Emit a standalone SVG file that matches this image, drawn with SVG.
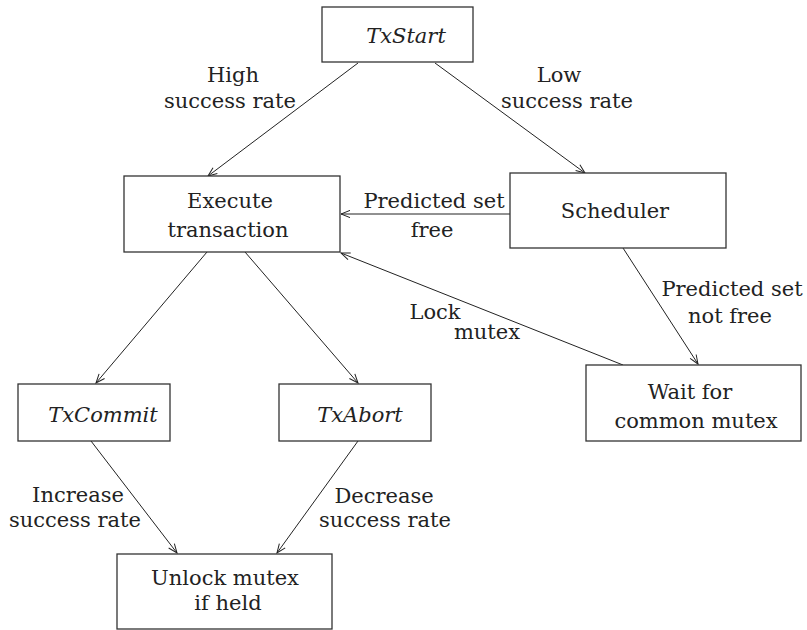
<svg xmlns="http://www.w3.org/2000/svg" width="807" height="630" viewBox="0 0 807 630">
<defs>
<marker id="arr" viewBox="-10 -5 12 10" markerWidth="12" markerHeight="10" refX="0" refY="0" orient="auto" markerUnits="userSpaceOnUse">
<path d="M -9 -3.6 L 0 0 L -9 3.6" fill="none" stroke="#222" stroke-width="1"/>
</marker>
</defs>
<style>
.box { fill: #fff; stroke: #333; stroke-width: 1.3; }
text { font-family: "DejaVu Serif", serif; font-size: 21px; fill: #222; text-anchor: middle; }
.it { font-style: italic; }
.c line { stroke: #222; stroke-width: 1; marker-end: url(#arr); }
</style>
<rect width="807" height="630" fill="#fff"/>
<g class="c" id="connectors">
<line x1="358" y1="63" x2="208" y2="176"/>
<line x1="435" y1="63" x2="585" y2="173"/>
<line x1="510" y1="214" x2="341" y2="214"/>
<line x1="623" y1="365" x2="341" y2="253"/>
<line x1="623" y1="248" x2="698" y2="364"/>
<line x1="207" y1="252" x2="96" y2="383"/>
<line x1="245" y1="252" x2="358" y2="383"/>
<line x1="91" y1="441" x2="177" y2="553"/>
<line x1="358" y1="441" x2="277" y2="553"/>
</g>
<g id="labels">
<text x="233" y="82">High</text>
<text x="230" y="108">success rate</text>
<text x="559" y="82">Low</text>
<text x="567" y="108">success rate</text>
<text x="434" y="208">Predicted set</text>
<text x="432" y="237">free</text>
<text x="435" y="319">Lock</text>
<text x="487" y="339">mutex</text>
<text x="732" y="296">Predicted set</text>
<text x="730" y="323">not free</text>
<text x="78" y="502">Increase</text>
<text x="75" y="527">success rate</text>
<text x="384" y="503">Decrease</text>
<text x="385" y="527">success rate</text>
</g>
<g id="txstart">
<rect class="box" x="322" y="7" width="151" height="55"/>
<text class="it" x="406" y="43">TxStart</text>
</g>
<g id="execute">
<rect class="box" x="124" y="176" width="216" height="76"/>
<text x="230" y="208">Execute</text>
<text x="228" y="237">transaction</text>
</g>
<g id="scheduler">
<rect class="box" x="510" y="173" width="216" height="75"/>
<text x="615" y="218">Scheduler</text>
</g>
<g id="wait">
<rect class="box" x="586" y="365" width="215" height="76"/>
<text x="690" y="399">Wait for</text>
<text x="696" y="428">common mutex</text>
</g>
<g id="txcommit">
<rect class="box" x="18" y="384" width="152" height="57"/>
<text class="it" x="103" y="422">TxCommit</text>
</g>
<g id="txabort">
<rect class="box" x="279" y="384" width="152" height="57"/>
<text class="it" x="360" y="422">TxAbort</text>
</g>
<g id="unlock">
<rect class="box" x="117" y="554" width="215" height="75"/>
<text x="225" y="585">Unlock mutex</text>
<text x="228" y="610">if held</text>
</g>
</svg>
